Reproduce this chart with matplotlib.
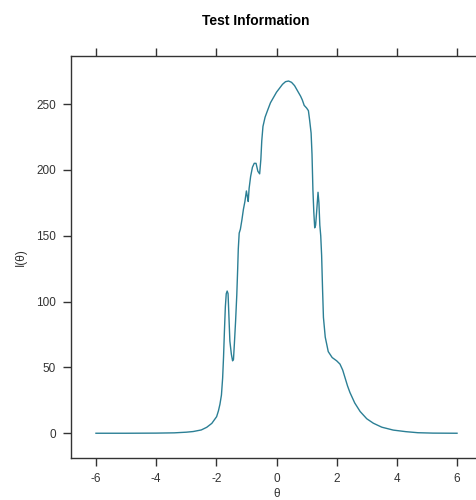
import numpy as np
import matplotlib as mpl
mpl.use("Agg")
import matplotlib.pyplot as plt

plt.rcParams['font.family'] = ['Liberation Sans', 'DejaVu Sans']
plt.rcParams['axes.unicode_minus'] = False

# test information curve
theta = [-6.0, -5.0, -4.0, -3.4, -3.0, -2.77, -2.5, -2.32, -2.15, -1.99,
         -1.93, -1.88, -1.83, -1.79, -1.76, -1.73, -1.70, -1.67, -1.64, -1.61,
         -1.58, -1.55, -1.50, -1.46, -1.43, -1.40, -1.36, -1.32, -1.29, -1.27,
         -1.24, -1.20, -1.15, -1.10, -1.05, -1.00, -0.97, -0.94, -0.91, -0.86,
         -0.80, -0.74, -0.68, -0.62, -0.56, -0.52, -0.49, -0.45, -0.38, -0.30,
         -0.20, -0.10, 0.00, 0.10, 0.20, 0.30, 0.40, 0.50, 0.60, 0.70,
         0.80, 0.86, 0.92, 1.00, 1.06, 1.10, 1.15, 1.18, 1.21, 1.24,
         1.27, 1.30, 1.34, 1.38, 1.41, 1.44, 1.47, 1.50, 1.53, 1.56,
         1.62, 1.72, 1.85, 2.00, 2.11, 2.20, 2.28, 2.36, 2.44, 2.60,
         2.78, 3.00, 3.22, 3.50, 3.88, 4.30, 4.70, 5.20, 6.0]
info = [0.0, 0.0, 0.1, 0.3, 0.8, 1.3, 2.5, 4.5, 7.5, 12.6,
        17, 22, 29, 42, 58, 78, 96, 106, 108, 106,
        88, 70, 60, 55, 56, 68, 85, 105, 125, 140,
        152, 155, 162, 170, 176, 184, 180, 176, 186, 195,
        202, 205, 205, 199, 197, 208, 222, 233, 240, 245,
        251, 255, 259, 262, 265, 267, 267.5, 266.5, 264, 260,
        256, 253, 249, 247, 245, 238, 228, 212, 185, 168,
        156, 158, 170, 183, 175, 158, 150, 135, 110, 88,
        73, 62, 57.5, 55, 52.5, 48, 42, 36, 31, 23,
        16.5, 11, 7.6, 4.6, 2.4, 1.2, 0.4, 0.1, 0.0]

fig = plt.figure(figsize=(4.76, 5.0), dpi=100)
ax = fig.add_axes([71/476, 1 - 458/500, 411/476, 402/500])
ax.plot(theta, info, color='#2b7f95', lw=1.0)

ax.set_xlim(-6.83, 6.83)
ax.set_ylim(-18.8, 286.5)
ax.set_xticks([-6, -4, -2, 0, 2, 4, 6])
ax.set_yticks([0, 50, 100, 150, 200, 250])
for s in ax.spines.values():
    s.set_color('#333333')
    s.set_linewidth(1.0)
ax.tick_params(direction='out', length=6, width=1.0, colors='#333333',
               labelsize=8.5, labelcolor='#333333', pad=5,
               top=True, right=True, labeltop=False, labelright=False)

ax.set_xlabel('θ', fontsize=8.5, color='#333333')
ax.xaxis.set_label_coords(0.5, -0.074)
ax.set_ylabel('I(θ)', fontsize=8.5, color='#333333')
ax.yaxis.set_label_coords(-0.108, 0.5)
fig.text(256/476, 1 - 21/500, 'Test Information', ha='center', va='center',
         fontsize=10, fontweight='bold')

fig.savefig('out.png', dpi=100)
